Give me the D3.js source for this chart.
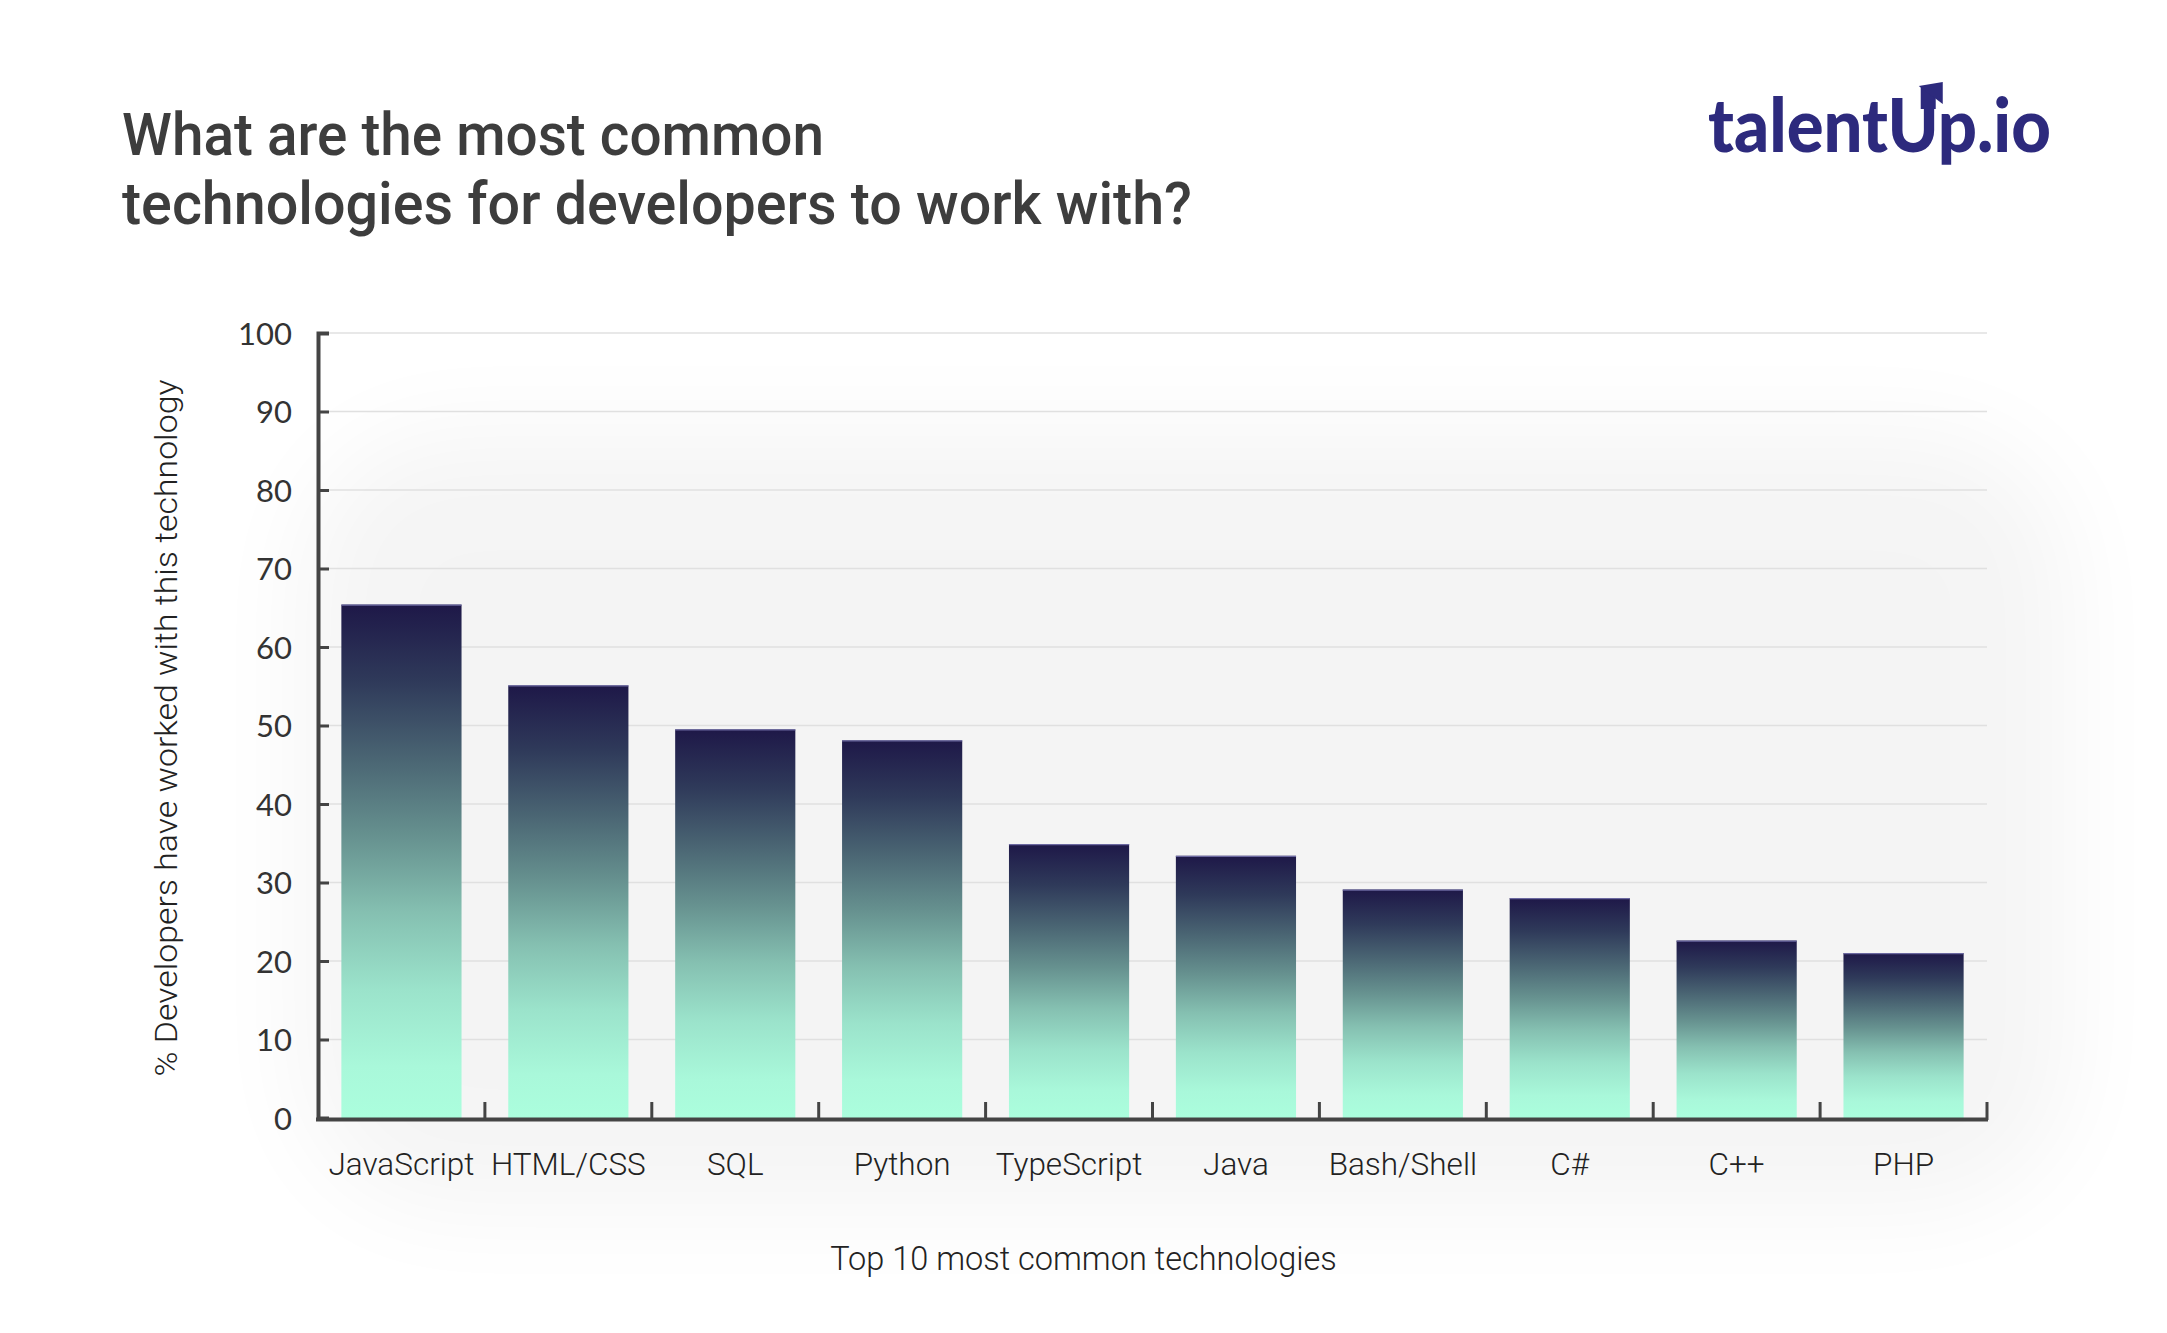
<!DOCTYPE html>
<html>
<head>
<meta charset="utf-8">
<script src="https://cdn.jsdelivr.net/npm/d3@7"></script>
<style>
  html, body { margin: 0; padding: 0; background: #ffffff; }
  svg { display: block; }
</style>
</head>
<body>
<svg id="chart" width="2167" height="1333"></svg>
<script>
const categories = ["JavaScript", "HTML/CSS", "SQL", "Python", "TypeScript", "Java", "Bash/Shell", "C#", "C++", "PHP"];
const values = [65.4, 55.1, 49.5, 48.1, 34.9, 33.4, 29.1, 28.0, 22.6, 21.0];
const yTicks = [0, 10, 20, 30, 40, 50, 60, 70, 80, 90, 100];
const titleLines = ["What are the most common", "technologies for developers to work with?"];
const xAxisTitle = "Top 10 most common technologies";
const yAxisTitle = "% Developers have worked with this technology";

const W = 2167, H = 1333;
const m = { left: 318, right: 1987, top: 333, bottom: 1118 };

const svg = d3.select("#chart");
const defs = svg.append("defs");

const blur = defs.append("filter").attr("id", "glow").attr("x", "-30%").attr("y", "-30%").attr("width", "160%").attr("height", "160%");
blur.append("feGaussianBlur").attr("stdDeviation", 50);

const grad = defs.append("linearGradient").attr("id", "barGrad")
  .attr("x1", 0).attr("y1", 0).attr("x2", 0).attr("y2", 1);
[[0, "#1e1848"], [0.15, "#2f3a5a"], [0.3, "#4a6573"], [0.45, "#66918f"],
 [0.6, "#85c0b1"], [0.75, "#9be3cb"], [0.9, "#a9f8da"], [1, "#abfedd"]]
  .forEach(([o, c]) => grad.append("stop").attr("offset", o).attr("stop-color", c));

svg.append("rect").attr("width", W).attr("height", H).attr("fill", "#fff");
svg.append("rect")
  .attr("x", 300).attr("y", 430).attr("width", 1770).attr("height", 780)
  .attr("rx", 150)
  .attr("fill", "#000").attr("opacity", 0.04)
  .attr("filter", "url(#glow)");

const x = d3.scaleBand().domain(categories).range([m.left, m.right]).paddingInner(0.28).paddingOuter(0.14);
const y = d3.scaleLinear().domain([0, 100]).range([m.bottom, m.top]);

svg.append("g").selectAll("line").data(yTicks.filter(d => d > 0)).join("line")
  .attr("x1", m.left).attr("x2", m.right)
  .attr("y1", d => y(d)).attr("y2", d => y(d))
  .attr("stroke", "#e0e0e0").attr("stroke-width", 1.5);

svg.append("g").selectAll("rect").data(values).join("rect")
  .attr("x", (d, i) => x(categories[i]))
  .attr("width", x.bandwidth())
  .attr("y", d => y(d))
  .attr("height", d => y(0) - y(d))
  .attr("fill", "url(#barGrad)");
svg.append("g").selectAll("line").data(values).join("line")
  .attr("x1", (d, i) => x(categories[i]))
  .attr("x2", (d, i) => x(categories[i]) + x.bandwidth())
  .attr("y1", d => y(d) + 0.5).attr("y2", d => y(d) + 0.5)
  .attr("stroke", "#6b68a0").attr("stroke-width", 1.2);

const yAxis = d3.axisLeft(y).tickValues(yTicks).tickSize(-11).tickPadding(0).tickFormat(d3.format("d"));
const gy = svg.append("g").attr("transform", `translate(${m.left},0)`).call(yAxis);
gy.select(".domain").attr("stroke", "#444").attr("stroke-width", 4);
gy.selectAll(".tick line").attr("stroke", "#444").attr("stroke-width", 3);
gy.selectAll(".tick text")
  .attr("x", -26).attr("text-anchor", "end").attr("dy", "0.36em")
  .style("font-family", "Lato, 'Open Sans', sans-serif").style("font-size", "31px").attr("fill", "#333");

const step = x.step();
const bounds = categories.map(c => x(c) + x.bandwidth() + step * x.paddingInner() / 2);
const gx = svg.append("g");
gx.append("line").attr("x1", m.left - 2).attr("x2", m.right + 1)
  .attr("y1", m.bottom + 1.5).attr("y2", m.bottom + 1.5)
  .attr("stroke", "#444").attr("stroke-width", 4);
gx.selectAll("line.tk").data(bounds).join("line").attr("class", "tk")
  .attr("x1", d => d).attr("x2", d => d)
  .attr("y1", m.bottom + 2).attr("y2", m.bottom - 16)
  .attr("stroke", "#444").attr("stroke-width", 3);
gx.selectAll("text").data(categories).join("text")
  .attr("x", d => x(d) + x.bandwidth() / 2)
  .attr("y", 1175)
  .attr("text-anchor", "middle")
  .style("font-family", "Roboto, sans-serif").style("font-weight", 300).style("font-size", "31.5px")
  .attr("fill", "#222")
  .text(d => d);

svg.append("text").attr("x", W / 2).attr("y", 1270).attr("text-anchor", "middle")
  .style("font-family", "Roboto, sans-serif").style("font-weight", 300).style("font-size", "32.5px")
  .attr("fill", "#222").text(xAxisTitle);
svg.append("text").attr("transform", "translate(177,728) rotate(-90)").attr("text-anchor", "middle")
  .style("font-family", "Roboto, sans-serif").style("font-weight", 300).style("font-size", "32px")
  .attr("textLength", 697).attr("lengthAdjust", "spacingAndGlyphs")
  .attr("fill", "#222").text(yAxisTitle);

svg.append("g").selectAll("text").data(titleLines).join("text")
  .attr("x", 122).attr("y", (d, i) => 155 + i * 69)
  .style("font-family", "Roboto, sans-serif").style("font-weight", 500).style("font-size", "60px")
  .attr("fill", "#3d3d3d")
  .attr("textLength", (d, i) => [702, 1070][i]).attr("lengthAdjust", "spacingAndGlyphs")
  .text(d => d);

const logo = svg.append("text").attr("x", 2051).attr("y", 152).attr("text-anchor", "end")
  .style("font-family", "Lato, sans-serif").style("font-weight", 900).style("font-size", "74px")
  .attr("fill", "#2d2a7d")
  .attr("textLength", 343).attr("lengthAdjust", "spacingAndGlyphs")
  .text("talentUp.io");
try {
  const ext = logo.node().getExtentOfChar(6);
  const sx = ext.x + ext.width - 17;
  svg.append("path")
    .attr("d", `M${sx},${ext.y + 30} L${sx},${86} L${sx + 15},${86} L${sx + 15},${ext.y + 30} Z`)
    .attr("fill", "#2d2a7d");
  svg.append("path")
    .attr("d", `M${sx - 2},${86} L${sx + 22},${82} L${sx + 22},${104} Z`)
    .attr("fill", "#2d2a7d");
} catch (e) {}
</script>
</body>
</html>
